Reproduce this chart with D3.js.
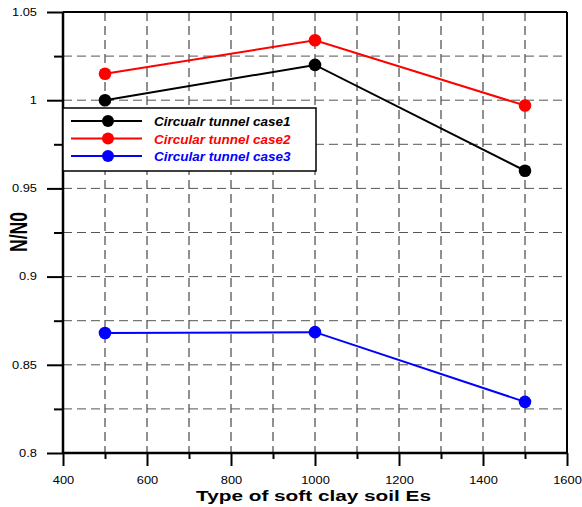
<!DOCTYPE html>
<html><head><meta charset="utf-8">
<script src="https://cdn.jsdelivr.net/npm/d3@7"></script>
<style>body{margin:0;background:#fff}svg{display:block}</style>
</head><body>
<svg id="c" width="582" height="507"></svg>
<script>
const xValues = [500, 1000, 1500];
const case1 = [1.000, 1.020, 0.960];
const case2 = [1.015, 1.034, 0.997];
const case3 = [0.868, 0.8685, 0.829];
const seriesNames = ["Circualr tunnel case1", "Circular tunnel case2", "Circular tunnel case3"];
const seriesColors = ["#000000", "#ff0000", "#0000ff"];
const xTickLabels = [400, 600, 800, 1000, 1200, 1400, 1600];
const yTickLabels = [0.8, 0.85, 0.9, 0.95, 1, 1.05];

const svg = d3.select("#c");
const L = 63, R = 567, T = 12, B = 453;
const x = d3.scaleLinear().domain([400, 1600]).range([L, R]);
const y = d3.scaleLinear().domain([0.8, 1.05]).range([B, T]);
const font = "Arial, 'Liberation Sans', sans-serif";

// grid
const gx = d3.range(500, 1600, 100);
const gy = d3.range(0.825, 1.05, 0.025);
svg.append("g").selectAll("line").data(gx).join("line")
  .attr("x1", d => x(d)).attr("x2", d => x(d)).attr("y1", T).attr("y2", B)
  .attr("stroke", "#222").attr("stroke-width", 1).attr("stroke-dasharray", "9,5");
svg.append("g").selectAll("line").data(gy).join("line")
  .attr("x1", L).attr("x2", R).attr("y1", d => y(d)).attr("y2", d => y(d))
  .attr("stroke", "#555").attr("stroke-width", 1).attr("stroke-dasharray", "9,5");

// axes
const xAxisMajor = d3.axisBottom(x).tickValues(xTickLabels).tickSize(13).tickSizeOuter(0).tickPadding(11)
  .tickFormat(d3.format("d"));
const xAxisMinor = d3.axisBottom(x).tickValues(d3.range(500, 1600, 200)).tickSize(6).tickSizeOuter(0).tickFormat("");
const yAxisMajor = d3.axisLeft(y).tickValues(yTickLabels).tickSize(16).tickSizeOuter(0).tickPadding(10)
  .tickFormat(d => d === 1 ? "1" : d3.format("")(+d.toFixed(3)));
const yAxisMinor = d3.axisLeft(y).tickValues(d3.range(0.825, 1.05, 0.05)).tickSize(9).tickSizeOuter(0).tickFormat("");

function styleAxis(g) {
  g.select(".domain").remove();
  g.selectAll(".tick line").attr("stroke", "#000").attr("stroke-width", 2);
  g.selectAll(".tick text").attr("font-family", font).attr("font-size", "10.3px").attr("fill", "#000")
    .each(function() {
      const t = d3.select(this);
      const tx = +t.attr("x") || 0;
      t.attr("x", 0).attr("transform", `translate(${tx},0) scale(1.25,1)`);
    });
}
svg.append("g").attr("transform", `translate(0,${B})`).call(xAxisMajor).call(styleAxis);
svg.append("g").attr("transform", `translate(0,${B})`).call(xAxisMinor).call(styleAxis);
svg.append("g").attr("transform", `translate(${L},0)`).call(yAxisMajor).call(styleAxis);
svg.append("g").attr("transform", `translate(${L},0)`).call(yAxisMinor).call(styleAxis);

// frame
svg.append("line").attr("x1", L).attr("x2", R).attr("y1", B).attr("y2", B).attr("stroke", "#000").attr("stroke-width", 2.5);
svg.append("line").attr("x1", L).attr("x2", L).attr("y1", T).attr("y2", B).attr("stroke", "#000").attr("stroke-width", 2.5);
svg.append("line").attr("x1", L).attr("x2", R).attr("y1", T).attr("y2", T).attr("stroke", "#000").attr("stroke-width", 2);
svg.append("line").attr("x1", R).attr("x2", R).attr("y1", T).attr("y2", B).attr("stroke", "#000").attr("stroke-width", 2);

// series
const allSeries = [case1, case2, case3];
const line = d3.line().x(d => x(d[0])).y(d => y(d[1]));
allSeries.forEach((vals, i) => {
  const pts = xValues.map((xv, j) => [xv, vals[j]]);
  svg.append("path").datum(pts).attr("d", line).attr("fill", "none")
    .attr("stroke", seriesColors[i]).attr("stroke-width", 2);
  svg.append("g").selectAll("circle").data(pts).join("circle")
    .attr("cx", d => x(d[0])).attr("cy", d => y(d[1])).attr("r", 6.3)
    .attr("fill", seriesColors[i]);
});

// legend
const lg = svg.append("g");
lg.append("rect").attr("x", 63).attr("y", 108).attr("width", 253).attr("height", 63)
  .attr("fill", "#fff").attr("stroke", "#000").attr("stroke-width", 1.5);
seriesNames.forEach((name, i) => {
  const yy = 121 + i * 17.5;
  lg.append("line").attr("x1", 71).attr("x2", 142).attr("y1", yy).attr("y2", yy)
    .attr("stroke", seriesColors[i]).attr("stroke-width", 2);
  lg.append("circle").attr("cx", 108).attr("cy", yy).attr("r", 6).attr("fill", seriesColors[i]);
  lg.append("text").attr("x", 154).attr("y", yy + 5).text(name)
    .attr("font-family", font).attr("font-size", "13.5px").attr("font-weight", "bold")
    .attr("font-style", "italic").attr("fill", seriesColors[i]);
});

// axis titles
svg.append("text").attr("transform", "translate(313.5,501) scale(1.34,1)").attr("text-anchor", "middle")
  .attr("font-family", font).attr("font-size", "15.5px").attr("font-weight", "bold")
  .text("Type of soft clay soil Es");
svg.append("text").attr("transform", "translate(26.7,232) rotate(-90) scale(1,1.36)").attr("text-anchor", "middle")
  .attr("font-family", font).attr("font-size", "17.5px").attr("font-weight", "bold")
  .text("N/N0");
</script>
</body></html>
